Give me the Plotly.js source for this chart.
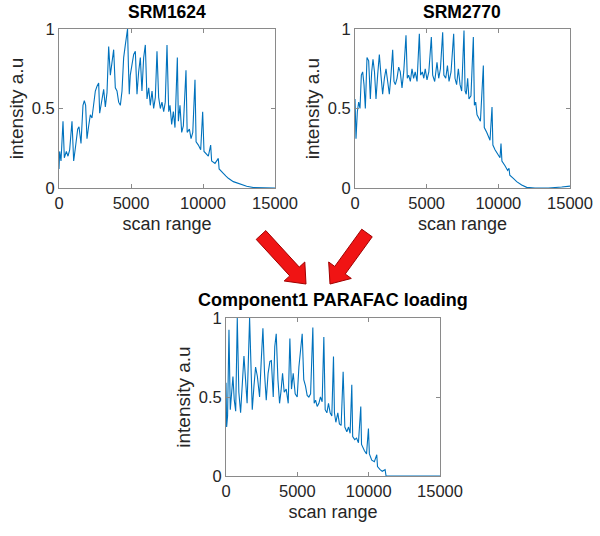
<!DOCTYPE html>
<html>
<head>
<meta charset="utf-8">
<script src="https://cdn.plot.ly/plotly-3.0.1.min.js"></script>
<style>html,body{margin:0;padding:0;background:#fff;}#chart{width:600px;height:536px;}</style>
</head>
<body>
<div id="chart"></div>
<script>
// ---- data ----
const panelTitles = ["SRM1624", "SRM2770", "Component1 PARAFAC loading"];
const xTickVals = [0, 5000, 10000, 15000];
const xTickText = ["0", "5000", "10000", "15000"];
const yTickVals = [0, 0.5, 1];
const yTickText = ["0", "0.5", "1"];
const xTitle = "scan range";
const yTitle = "intensity a.u";

const srm1624X = [0,46,139,278,370,509,625,740,903,1018,1134,1296,1389,1528,1666,1759,1850,1944,2060,2176,2290,2407,2523,2639,2755,2824,2940,3102,3218,3333,3449,3565,3680,3796,3911,4027,4143,4259,4375,4490,4606,4760,4820,4880,4950,5070,5186,5301,5416,5530,5648,5760,5879,5995,6111,6230,6340,6460,6573,6690,6805,6920,7037,7150,7270,7380,7500,7620,7708,7824,7940,8055,8218,8290,8402,8520,8635,8819,8900,9055,9170,9290,9444,9520,9680,9840,9977,10070,10254,10370,10532,10600,10833,11064,11120,11180,11412,11597,11650,11759,12106,12569,13032,13495,14190,15000];
const srm1624Y = [0.12,0.23,0.17,0.42,0.19,0.23,0.20,0.24,0.42,0.17,0.25,0.37,0.385,0.28,0.52,0.55,0.52,0.31,0.39,0.46,0.44,0.52,0.61,0.64,0.66,0.47,0.54,0.62,0.51,0.60,0.89,0.71,0.79,0.87,0.63,0.61,0.54,0.52,0.61,0.82,0.90,1.0,0.77,0.59,0.71,0.77,0.84,0.86,0.59,0.73,0.82,0.61,0.82,0.90,0.56,0.63,0.52,0.61,0.50,0.57,0.86,0.57,0.50,0.54,0.48,0.54,0.90,0.48,0.52,0.40,0.48,0.38,0.82,0.42,0.52,0.35,0.39,0.74,0.35,0.37,0.31,0.35,0.68,0.29,0.27,0.24,0.48,0.23,0.21,0.20,0.27,0.17,0.155,0.186,0.12,0.113,0.092,0.075,0.07,0.061,0.04,0.023,0.011,0.003,0,0];

const srm2770X = [0,70,163,256,349,442,535,628,721,837,953,1070,1163,1256,1360,1465,1580,1698,1810,1930,2050,2163,2280,2395,2510,2628,2720,2814,2930,3047,3160,3279,3400,3558,3650,3744,3860,3977,4090,4200,4330,4489,4580,4700,4800,4900,5023,5150,5326,5420,5560,5721,5840,5960,6117,6200,6330,6450,6560,6700,6884,6977,7090,7210,7330,7442,7605,7680,7760,7860,7950,8090,8256,8330,8420,8512,8630,8750,8954,9020,9187,9300,9420,9559,9620,9768,9950,10117,10186,10250,10465,10650,10744,10800,11047,11280,11628,11977,12558,13488,14419,15000];
const srm2770Y = [0.56,0.31,0.48,0.54,0.50,0.71,0.73,0.65,0.50,0.82,0.80,0.56,0.73,0.81,0.73,0.56,0.71,0.84,0.71,0.59,0.69,0.75,0.67,0.59,0.71,0.87,0.67,0.65,0.69,0.76,0.73,0.63,0.73,0.96,0.69,0.71,0.67,0.75,0.69,0.73,0.67,0.97,0.71,0.73,0.69,0.75,0.68,0.73,0.95,0.71,0.67,0.79,0.69,0.75,0.98,0.71,0.69,0.77,0.67,0.73,0.97,0.69,0.65,0.75,0.65,0.61,0.99,0.61,0.59,0.69,0.56,0.58,0.95,0.52,0.54,0.46,0.44,0.42,0.77,0.38,0.35,0.33,0.30,0.51,0.27,0.24,0.21,0.19,0.28,0.17,0.14,0.11,0.124,0.08,0.06,0.04,0.019,0.004,0,0,0.006,0.012];

const compX = [0,45,110,208,300,400,487,580,680,790,900,1024,1140,1258,1370,1480,1654,1750,1841,1960,2074,2200,2354,2470,2588,2700,2821,2950,3078,3180,3311,3420,3521,3640,3754,3860,3964,4080,4220,4361,4477,4590,4711,4850,4991,5110,5220,5341,5450,5570,5690,5808,5930,6087,6180,6280,6391,6510,6620,6740,6858,6951,7070,7184,7300,7417,7534,7600,7700,7837,7950,8071,8211,8260,8330,8470,8590,8701,8817,8880,9020,9150,9284,9447,9500,9704,9850,9984,10050,10217,10400,10567,10620,10801,10950,11151,11220,11617,15000];
const compY = [0.59,0.31,0.38,0.925,0.42,0.53,0.63,0.48,0.41,1.0,0.53,0.40,0.55,0.76,0.61,0.46,1.0,0.61,0.42,0.57,0.69,0.63,0.50,0.73,0.935,0.65,0.48,0.65,0.725,0.73,0.50,0.82,0.90,0.61,0.46,0.54,0.65,0.53,0.55,0.46,0.87,0.55,0.65,0.52,0.50,0.69,0.80,0.90,0.61,0.57,0.51,0.50,0.52,0.94,0.46,0.48,0.44,0.46,0.50,0.47,0.88,0.42,0.40,0.46,0.40,0.38,0.756,0.40,0.34,0.40,0.33,0.32,0.66,0.52,0.31,0.28,0.31,0.27,0.577,0.25,0.23,0.24,0.21,0.44,0.20,0.16,0.14,0.30,0.14,0.10,0.09,0.135,0.06,0.04,0.03,0.04,0,0,0];

// ---- styling ----
const lineColor = "#0072BD";
const axisColor = "#8a8a8a";
const textColor = "#262626";
const fontFamily = "Liberation Sans, Arial, sans-serif";

const traces = [
  {x: srm1624X, y: srm1624Y, xaxis: "x", yaxis: "y"},
  {x: srm2770X, y: srm2770Y, xaxis: "x2", yaxis: "y2"},
  {x: compX, y: compY, xaxis: "x3", yaxis: "y3"}
].map(t => Object.assign(t, {type: "scatter", mode: "lines", line: {color: lineColor, width: 1.1}, hoverinfo: "skip"}));

function px2x(p) { return p / 600; }
function py2y(p) { return 1 - p / 536; }

function xAxis(l, r, anchor) {
  return {
    domain: [px2x(l), px2x(r)], anchor: anchor, range: [0, 15000],
    tickmode: "array", tickvals: xTickVals, ticktext: xTickText,
    ticks: "inside", ticklen: 4, tickcolor: axisColor, mirror: "ticks",
    showline: true, linecolor: axisColor, linewidth: 1,
    showgrid: false, zeroline: false,
    tickfont: {family: fontFamily, size: 16.5, color: textColor},
    title: {text: xTitle, font: {family: fontFamily, size: 18, color: textColor}, standoff: 6}
  };
}
function yAxis(t, b, anchor) {
  return {
    domain: [py2y(b), py2y(t)], anchor: anchor, range: [0, 1],
    tickmode: "array", tickvals: yTickVals, ticktext: yTickText,
    ticks: "inside", ticklen: 4, tickcolor: axisColor, mirror: "ticks",
    showline: true, linecolor: axisColor, linewidth: 1,
    showgrid: false, zeroline: false,
    tickfont: {family: fontFamily, size: 16.5, color: textColor},
    title: {text: yTitle, font: {family: fontFamily, size: 19, color: textColor}, standoff: 3}
  };
}

// arrow polygon (decoration) from tail to tip, in pixels
function arrowPath(tx, ty, hx, hy) {
  const dx = hx - tx, dy = hy - ty, L = Math.hypot(dx, dy);
  const ux = dx / L, uy = dy / L, nx = -uy, ny = ux;
  const sw = 6.5, hw = 14, hl = 17;
  const bx = hx - ux * hl, by = hy - uy * hl;
  const pts = [
    [tx + nx * sw, ty + ny * sw],
    [bx + nx * sw, by + ny * sw],
    [bx + nx * hw, by + ny * hw],
    [hx, hy],
    [bx - nx * hw, by - ny * hw],
    [bx - nx * sw, by - ny * sw],
    [tx - nx * sw, ty - ny * sw]
  ];
  return "M" + pts.map(p => px2x(p[0]).toFixed(4) + "," + py2y(p[1]).toFixed(4)).join(" L") + " Z";
}

const titleFont = {family: fontFamily, size: 17.5, color: "#000", weight: "bold"};
const layout = {
  width: 600, height: 536,
  margin: {l: 0, r: 0, t: 0, b: 0},
  paper_bgcolor: "#fff", plot_bgcolor: "#fff",
  showlegend: false,
  xaxis: xAxis(59, 275, "y"),
  yaxis: yAxis(29, 188, "x"),
  xaxis2: xAxis(355, 570, "y2"),
  yaxis2: yAxis(29, 188, "x2"),
  xaxis3: xAxis(226, 440, "y3"),
  yaxis3: yAxis(318, 476, "x3"),
  annotations: [
    {text: "<b>" + panelTitles[0] + "</b>", xref: "paper", yref: "paper", x: px2x(167), y: py2y(12), xanchor: "center", yanchor: "middle", showarrow: false, font: titleFont},
    {text: "<b>" + panelTitles[1] + "</b>", xref: "paper", yref: "paper", x: px2x(462), y: py2y(12), xanchor: "center", yanchor: "middle", showarrow: false, font: titleFont},
    {text: "<b>" + panelTitles[2] + "</b>", xref: "paper", yref: "paper", x: px2x(333), y: py2y(300), xanchor: "center", yanchor: "middle", showarrow: false, font: Object.assign({}, titleFont, {size: 18})}
  ],
  shapes: [
    {type: "path", xref: "paper", yref: "paper", path: arrowPath(261, 235, 306, 284), fillcolor: "#f01414", line: {color: "#a00000", width: 1}},
    {type: "path", xref: "paper", yref: "paper", path: arrowPath(367, 233, 330, 284), fillcolor: "#f01414", line: {color: "#a00000", width: 1}}
  ]
};

Plotly.newPlot("chart", traces, layout, {staticPlot: true, displayModeBar: false});
</script>
</body>
</html>
